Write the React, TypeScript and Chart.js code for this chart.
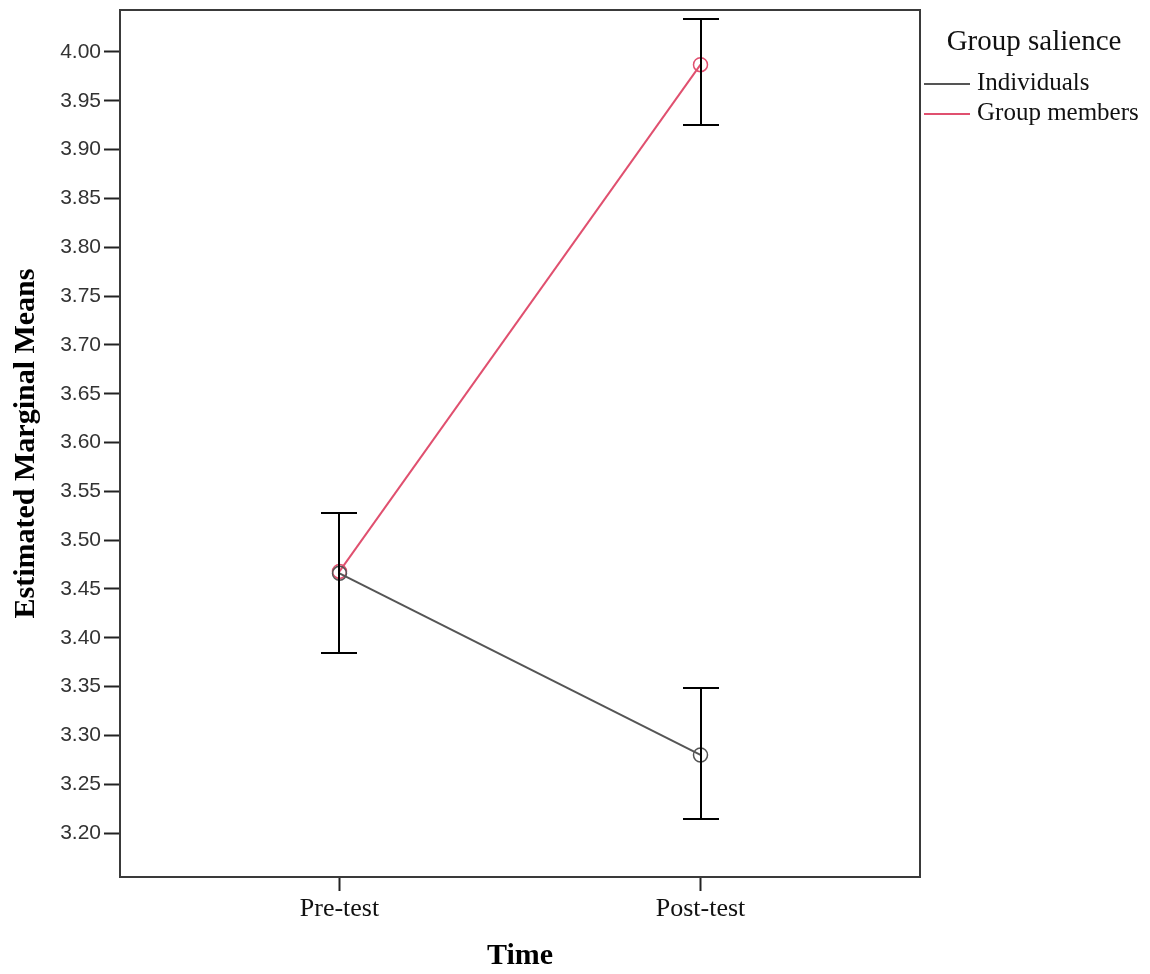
import React, { useEffect, useRef } from "react";
import { Chart, registerables } from "chart.js";

Chart.register(...registerables);

const categories = ["Pre-test", "Post-test"];
const xPositions = [1, 2];
const seriesNames = ["Individuals", "Group members"];
const individualsMean = [3.466, 3.28];
const individualsLow = [3.384, 3.214];
const individualsHigh = [3.528, 3.349];
const groupMean = [3.468, 3.987];
const groupLow = [3.384, 3.925];
const groupHigh = [3.528, 4.034];
const yTicks = [3.2, 3.25, 3.3, 3.35, 3.4, 3.45, 3.5, 3.55, 3.6, 3.65, 3.7, 3.75, 3.8, 3.85, 3.9, 3.95, 4.0];
const legendTitle = "Group salience";
const xTitle = "Time";
const yTitle = "Estimated Marginal Means";

const COLORS = ["#555555", "#e0506f"];

const errorBarPlugin = {
  id: "errorBars",
  afterDatasetsDraw(chart: any) {
    const { ctx } = chart;
    const xs = chart.scales.x;
    const ys = chart.scales.y;
    ctx.save();
    ctx.strokeStyle = "#000";
    ctx.lineWidth = 2;
    chart.data.datasets.forEach((ds: any) => {
      ds.data.forEach((pt: any, i: number) => {
        const x = Math.round(xs.getPixelForValue(pt.x));
        const yl = Math.round(ys.getPixelForValue(ds.low[i]));
        const yh = Math.round(ys.getPixelForValue(ds.high[i]));
        ctx.beginPath();
        ctx.moveTo(x, yl);
        ctx.lineTo(x, yh);
        ctx.moveTo(x - 18, yl);
        ctx.lineTo(x + 18, yl);
        ctx.moveTo(x - 18, yh);
        ctx.lineTo(x + 18, yh);
        ctx.stroke();
      });
    });
    ctx.restore();
  },
};

const framePlugin = {
  id: "frame",
  afterDraw(chart: any) {
    const { ctx, chartArea } = chart;
    ctx.save();
    ctx.strokeStyle = "#3a3a3a";
    ctx.lineWidth = 2;
    ctx.strokeRect(chartArea.left, chartArea.top, chartArea.right - chartArea.left, chartArea.bottom - chartArea.top);
    ctx.restore();
  },
};

const legendPlugin = {
  id: "customLegend",
  afterDraw(chart: any) {
    const { ctx, chartArea } = chart;
    ctx.save();
    ctx.fillStyle = "#111";
    ctx.textBaseline = "middle";
    ctx.font = '29px "Liberation Serif"';
    ctx.textAlign = "center";
    ctx.fillText(legendTitle, chartArea.right + 114, 42);
    ctx.font = '25px "Liberation Serif"';
    ctx.textAlign = "left";
    chart.data.datasets.forEach((ds: any, i: number) => {
      const y = 83 + i * 30;
      ctx.strokeStyle = ds.borderColor;
      ctx.lineWidth = 2;
      ctx.beginPath();
      ctx.moveTo(chartArea.right + 4, y + 1);
      ctx.lineTo(chartArea.right + 50, y + 1);
      ctx.stroke();
      ctx.fillStyle = "#111";
      ctx.fillText(ds.label, chartArea.right + 57, y);
    });
    ctx.restore();
  },
};

export default function App() {
  const ref = useRef<HTMLCanvasElement | null>(null);
  useEffect(() => {
    if (!ref.current) return;
    const means = [individualsMean, groupMean];
    const lows = [individualsLow, groupLow];
    const highs = [individualsHigh, groupHigh];
    const chart = new Chart(ref.current, {
      type: "line",
      data: {
        datasets: seriesNames.map((name, s) => ({
          label: name,
          data: xPositions.map((x, i) => ({ x, y: means[s][i] })),
          low: lows[s],
          high: highs[s],
          borderColor: COLORS[s],
          backgroundColor: "rgba(0,0,0,0)",
          borderWidth: 2,
          pointRadius: 7,
          pointBorderWidth: 1.5,
          pointBorderColor: COLORS[s],
          pointBackgroundColor: "rgba(0,0,0,0)",
          tension: 0,
        })) as any,
      },
      options: {
        animation: false,
        responsive: false,
        maintainAspectRatio: false,
        layout: { padding: { top: 10, right: 230, left: 0, bottom: 0 } },
        plugins: { legend: { display: false }, tooltip: { enabled: false } },
        scales: {
          x: {
            type: "linear",
            min: 0.392,
            max: 2.608,
            afterBuildTicks: (scale: any) => {
              scale.ticks = xPositions.map((v) => ({ value: v }));
            },
            afterFit: (scale: any) => {
              scale.height = 97;
              scale.paddingLeft = 0;
              scale.paddingRight = 0;
            },
            ticks: {
              callback: (v: any) => {
                const idx = xPositions.indexOf(Number(v));
                return idx >= 0 ? categories[idx] : "";
              },
              color: "#111",
              font: { family: "Liberation Serif", size: 26 },
              padding: 3,
              maxRotation: 0,
              autoSkip: false,
            },
            grid: { drawOnChartArea: false, color: "#222", tickLength: 14, tickWidth: 2 },
            border: { display: true, color: "#3a3a3a", width: 2 },
            title: {
              display: true,
              text: xTitle,
              color: "#000",
              font: { family: "Liberation Serif", size: 30, weight: "bold", lineHeight: 1.2 },
              padding: { top: 0, bottom: 0 },
            },
          },
          y: {
            type: "linear",
            min: 3.155,
            max: 4.043,
            afterBuildTicks: (scale: any) => {
              scale.ticks = yTicks.map((v) => ({ value: v }));
            },
            afterFit: (scale: any) => {
              scale.width = 120;
              scale.paddingTop = 0;
              scale.paddingBottom = 0;
            },
            ticks: {
              callback: (v: any) => Number(v).toFixed(2),
              color: "#333",
              font: { family: "Liberation Sans", size: 21 },
              padding: 3,
              autoSkip: false,
            },
            grid: { drawOnChartArea: false, color: "#222", tickLength: 16, tickWidth: 2 },
            border: { display: true, color: "#3a3a3a", width: 2 },
            title: {
              display: true,
              text: yTitle,
              color: "#000",
              font: { family: "Liberation Serif", size: 30, weight: "bold", lineHeight: 1.2 },
              padding: { top: 8, bottom: 0 },
            },
          },
        },
      },
      plugins: [errorBarPlugin, framePlugin, legendPlugin],
    });
    return () => chart.destroy();
  }, []);
  return (
    <div style={{ margin: "-8px", width: 1150, height: 974, background: "#fff" }}>
      <canvas ref={ref} width={1150} height={974} style={{ display: "block", width: 1150, height: 974 }} />
    </div>
  );
}
